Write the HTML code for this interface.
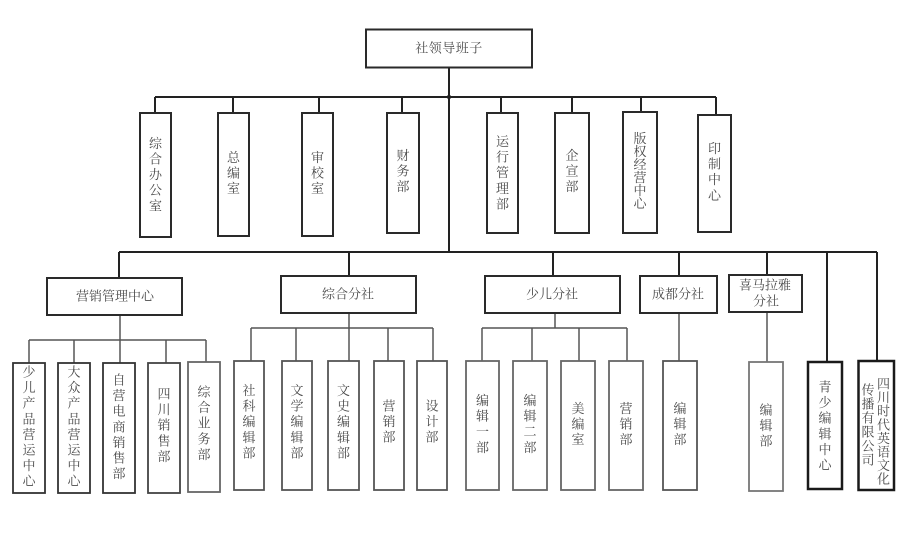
<!DOCTYPE html>
<html><head><meta charset="utf-8">
<style>
html,body{margin:0;padding:0;background:#fff;}
svg{display:block;}
text{font-family:"Liberation Serif","Noto Serif CJK SC","Noto Sans CJK SC",serif;font-size:13px;fill:#4a4a4a;}
</style></head>
<body>
<svg width="918" height="534" viewBox="0 0 918 534" xmlns="http://www.w3.org/2000/svg">
<rect width="918" height="534" fill="#fff"/>
<!-- main connectors -->
<g stroke="#222" stroke-width="2" fill="none">
  <line x1="449" y1="67" x2="449" y2="252"/>
  <line x1="155" y1="97" x2="716" y2="97"/>
  <line x1="155" y1="97" x2="155" y2="113"/>
  <line x1="233" y1="97" x2="233" y2="113"/>
  <line x1="319" y1="97" x2="319" y2="113"/>
  <line x1="402" y1="97" x2="402" y2="113"/>
  <line x1="501" y1="97" x2="501" y2="113"/>
  <line x1="572" y1="97" x2="572" y2="113"/>
  <line x1="641" y1="97" x2="641" y2="112"/>
  <line x1="716" y1="97" x2="716" y2="115"/>
  <line x1="119" y1="252" x2="877" y2="252"/>
  <line x1="119" y1="252" x2="119" y2="278"/>
  <line x1="349" y1="252" x2="349" y2="276"/>
  <line x1="553" y1="252" x2="553" y2="276"/>
  <line x1="679" y1="252" x2="679" y2="276"/>
  <line x1="767" y1="252" x2="767" y2="275"/>
  <line x1="827" y1="252" x2="827" y2="362"/>
  <line x1="877" y1="252" x2="877" y2="361"/>
</g>
<circle cx="449" cy="97" r="2.2" fill="#222"/>
<!-- sub connectors -->
<g stroke="#555" stroke-width="1.5" fill="none">
  <line x1="120" y1="315" x2="120" y2="340"/>
  <line x1="29" y1="340" x2="206" y2="340"/>
  <line x1="29" y1="340" x2="29" y2="363"/>
  <line x1="74" y1="340" x2="74" y2="363"/>
  <line x1="120" y1="340" x2="120" y2="363"/>
  <line x1="166" y1="340" x2="166" y2="363"/>
  <line x1="206" y1="340" x2="206" y2="362"/>
  <line x1="349" y1="313" x2="349" y2="328"/>
  <line x1="251" y1="328" x2="433" y2="328"/>
  <line x1="251" y1="328" x2="251" y2="361"/>
  <line x1="296" y1="328" x2="296" y2="361"/>
  <line x1="349" y1="328" x2="349" y2="361"/>
  <line x1="388" y1="328" x2="388" y2="361"/>
  <line x1="433" y1="328" x2="433" y2="361"/>
  <line x1="555" y1="313" x2="555" y2="328"/>
  <line x1="482" y1="328" x2="627" y2="328"/>
  <line x1="482" y1="328" x2="482" y2="361"/>
  <line x1="532" y1="328" x2="532" y2="361"/>
  <line x1="579" y1="328" x2="579" y2="361"/>
  <line x1="627" y1="328" x2="627" y2="361"/>
  <line x1="679" y1="313" x2="679" y2="361"/>
  <line x1="767" y1="312" x2="767" y2="362"/>
</g>
<!-- top boxes -->
<g stroke="#2a2a2a" stroke-width="2" fill="#fff">
  <rect x="366" y="29.5" width="166" height="38"/>
  <rect x="140" y="113" width="31" height="124"/>
  <rect x="218" y="113" width="31" height="123"/>
  <rect x="302" y="113" width="31" height="123"/>
  <rect x="387" y="113" width="32" height="120"/>
  <rect x="487" y="113" width="31" height="120"/>
  <rect x="555" y="113" width="34" height="120"/>
  <rect x="623" y="112" width="34" height="121"/>
  <rect x="698" y="115" width="33" height="117"/>
  <rect x="47" y="278" width="135" height="37"/>
  <rect x="281" y="276" width="135" height="37"/>
  <rect x="485" y="276" width="135" height="37"/>
  <rect x="640" y="276" width="77" height="37"/>
  <rect x="729" y="275" width="73" height="37"/>
</g>
<!-- child boxes -->
<g stroke="#555" stroke-width="1.8" fill="#fff">
  <rect x="13" y="363" width="32" height="130" stroke="#333"/>
  <rect x="58" y="363" width="32" height="130" stroke="#333"/>
  <rect x="103" y="363" width="32" height="130" stroke="#333"/>
  <rect x="148" y="363" width="32" height="130" stroke="#444"/>
  <rect x="188" y="362" width="32" height="130" stroke="#666"/>
  <rect x="234" y="361" width="30" height="129"/>
  <rect x="282" y="361" width="30" height="129"/>
  <rect x="328" y="361" width="31" height="129"/>
  <rect x="374" y="361" width="30" height="129"/>
  <rect x="417" y="361" width="30" height="129"/>
  <rect x="466" y="361" width="33" height="129" stroke="#666"/>
  <rect x="513" y="361" width="34" height="129" stroke="#666"/>
  <rect x="561" y="361" width="34" height="129" stroke="#666"/>
  <rect x="609" y="361" width="34" height="129" stroke="#666"/>
  <rect x="663" y="361" width="34" height="129"/>
  <rect x="749" y="362" width="34" height="129" stroke="#777"/>
</g>
<g stroke="#1a1a1a" stroke-width="2.5" fill="#fff">
  <rect x="808" y="362" width="34" height="127"/>
  <rect x="858.5" y="361" width="35.5" height="129"/>
</g>
<!-- horizontal labels -->
<g text-anchor="middle" dominant-baseline="central">
  <text x="449" y="48" letter-spacing="0.5">社领导班子</text>
  <text x="115" y="296">营销管理中心</text>
  <text x="348" y="294">综合分社</text>
  <text x="552" y="294">少儿分社</text>
  <text x="678" y="294">成都分社</text>
  <text x="765" y="285">喜马拉雅</text>
  <text x="766" y="301">分社</text>
</g>
<!-- vertical labels -->
<g text-anchor="middle" dominant-baseline="central">
  <!-- 综合办公室 -->
  <text x="155.5" y="143.5">综</text><text x="155.5" y="159">合</text><text x="155.5" y="174.6">办</text><text x="155.5" y="190.2">公</text><text x="155.5" y="205.8">室</text>
  <!-- 总编室 -->
  <text x="233.5" y="157.5">总</text><text x="233.5" y="173.1">编</text><text x="233.5" y="188.7">室</text>
  <!-- 审校室 -->
  <text x="317.5" y="157.5">审</text><text x="317.5" y="173.1">校</text><text x="317.5" y="188.7">室</text>
  <!-- 财务部 -->
  <text x="403" y="155.5">财</text><text x="403" y="171.1">务</text><text x="403" y="186.7">部</text>
  <!-- 运行管理部 -->
  <text x="502.5" y="141.5">运</text><text x="502.5" y="157.1">行</text><text x="502.5" y="172.7">管</text><text x="502.5" y="188.3">理</text><text x="502.5" y="203.9">部</text>
  <!-- 企宣部 -->
  <text x="572" y="155.5">企</text><text x="572" y="171.1">宣</text><text x="572" y="186.7">部</text>
  <!-- 版权经营中心 -->
  <text x="640" y="138.5">版</text><text x="640" y="151.5">权</text><text x="640" y="164.5">经</text><text x="640" y="177.5">营</text><text x="640" y="190.5">中</text><text x="640" y="203.5">心</text>
  <!-- 印制中心 -->
  <text x="714.5" y="148.5">印</text><text x="714.5" y="164.1">制</text><text x="714.5" y="179.7">中</text><text x="714.5" y="195.3">心</text>

  <!-- 少儿产品营运中心 -->
  <text x="29" y="372">少</text><text x="29" y="387.6">儿</text><text x="29" y="403.2">产</text><text x="29" y="418.8">品</text><text x="29" y="434.4">营</text><text x="29" y="450">运</text><text x="29" y="465.6">中</text><text x="29" y="481.2">心</text>
  <!-- 大众产品营运中心 -->
  <text x="74" y="372">大</text><text x="74" y="387.6">众</text><text x="74" y="403.2">产</text><text x="74" y="418.8">品</text><text x="74" y="434.4">营</text><text x="74" y="450">运</text><text x="74" y="465.6">中</text><text x="74" y="481.2">心</text>
  <!-- 自营电商销售部 -->
  <text x="119" y="380">自</text><text x="119" y="395.6">营</text><text x="119" y="411.2">电</text><text x="119" y="426.8">商</text><text x="119" y="442.4">销</text><text x="119" y="458">售</text><text x="119" y="473.6">部</text>
  <!-- 四川销售部 -->
  <text x="164" y="394">四</text><text x="164" y="409.6">川</text><text x="164" y="425.2">销</text><text x="164" y="440.8">售</text><text x="164" y="456.4">部</text>
  <!-- 综合业务部 -->
  <text x="204" y="392">综</text><text x="204" y="407.6">合</text><text x="204" y="423.2">业</text><text x="204" y="438.8">务</text><text x="204" y="454.4">部</text>
  <!-- 社科编辑部 -->
  <text x="249" y="390.5">社</text><text x="249" y="406.1">科</text><text x="249" y="421.7">编</text><text x="249" y="437.3">辑</text><text x="249" y="452.9">部</text>
  <!-- 文学编辑部 -->
  <text x="297" y="390.5">文</text><text x="297" y="406.1">学</text><text x="297" y="421.7">编</text><text x="297" y="437.3">辑</text><text x="297" y="452.9">部</text>
  <!-- 文史编辑部 -->
  <text x="343.5" y="390.5">文</text><text x="343.5" y="406.1">史</text><text x="343.5" y="421.7">编</text><text x="343.5" y="437.3">辑</text><text x="343.5" y="452.9">部</text>
  <!-- 营销部 -->
  <text x="389" y="406">营</text><text x="389" y="421.6">销</text><text x="389" y="437.2">部</text>
  <!-- 设计部 -->
  <text x="432" y="406">设</text><text x="432" y="421.6">计</text><text x="432" y="437.2">部</text>
  <!-- 编辑一部 -->
  <text x="482.5" y="400.5">编</text><text x="482.5" y="416.1">辑</text><text x="482.5" y="431.7">一</text><text x="482.5" y="447.3">部</text>
  <!-- 编辑二部 -->
  <text x="530" y="400.5">编</text><text x="530" y="416.1">辑</text><text x="530" y="431.7">二</text><text x="530" y="447.3">部</text>
  <!-- 美编室 -->
  <text x="578" y="408.5">美</text><text x="578" y="424.1">编</text><text x="578" y="439.7">室</text>
  <!-- 营销部 -->
  <text x="626" y="408.5">营</text><text x="626" y="424.1">销</text><text x="626" y="439.7">部</text>
  <!-- 编辑部 成都 -->
  <text x="680" y="408.5">编</text><text x="680" y="424.1">辑</text><text x="680" y="439.7">部</text>
  <!-- 编辑部 喜马 -->
  <text x="766" y="410">编</text><text x="766" y="425.6">辑</text><text x="766" y="441.2">部</text>
  <!-- 青少编辑中心 -->
  <text x="825" y="387">青</text><text x="825" y="402.6">少</text><text x="825" y="418.2">编</text><text x="825" y="433.8">辑</text><text x="825" y="449.4">中</text><text x="825" y="465">心</text>
  <!-- 四川时代英语文化 -->
  <text x="883.5" y="384" font-size="12.5">四</text><text x="883.5" y="397.6" font-size="12.5">川</text><text x="883.5" y="411.2" font-size="12.5">时</text><text x="883.5" y="424.8" font-size="12.5">代</text><text x="883.5" y="438.4" font-size="12.5">英</text><text x="883.5" y="452" font-size="12.5">语</text><text x="883.5" y="465.6" font-size="12.5">文</text><text x="883.5" y="479.2" font-size="12.5">化</text>
  <!-- 传播有限公司 -->
  <text x="868" y="390" font-size="12.5">传</text><text x="868" y="404" font-size="12.5">播</text><text x="868" y="418" font-size="12.5">有</text><text x="868" y="432" font-size="12.5">限</text><text x="868" y="446" font-size="12.5">公</text><text x="868" y="460" font-size="12.5">司</text>
</g>
</svg>
</body></html>
